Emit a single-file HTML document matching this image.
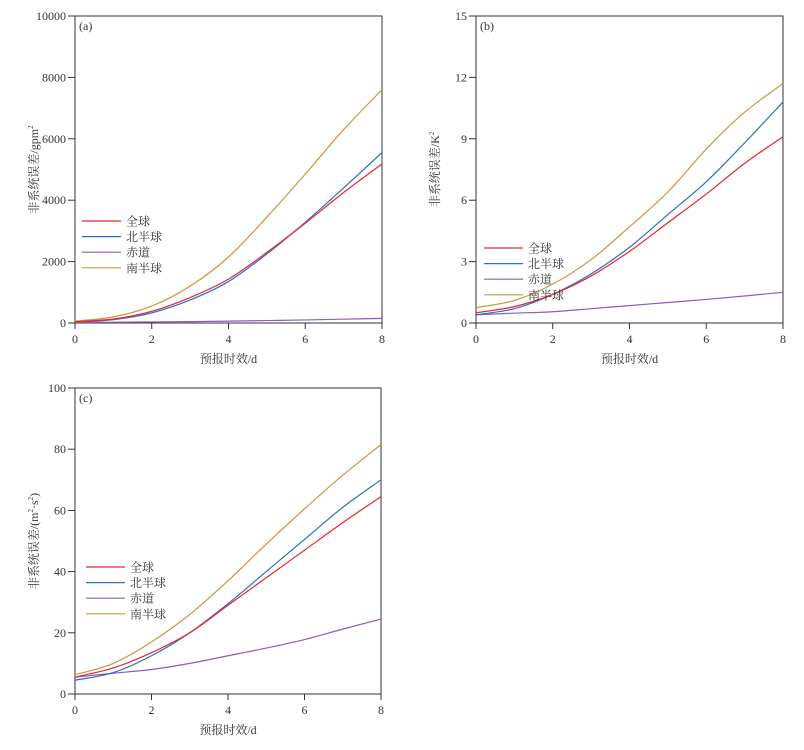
<!DOCTYPE html>
<html><head><meta charset="utf-8">
<style>
body{margin:0;background:#fff;}
svg{display:block;font-family:"Liberation Serif","Noto Serif CJK SC",serif;}
</style></head>
<body>
<svg id="chart" width="804" height="750" viewBox="0 0 804 750"></svg>
<script>
const days = [0,1,2,3,4,5,6,7,8];
const seriesNames = ["全球","北半球","赤道","南半球"];
const seriesColors = ["#e8262a","#2a6fc9","#8a5cc2","#c8963e"];
// panel a
const aGlobal = [40,130,380,830,1430,2300,3250,4250,5180];
const aNorth = [30,110,330,750,1350,2250,3280,4400,5550];
const aEquator = [20,25,35,45,60,80,100,125,150];
const aSouth = [60,200,550,1200,2150,3450,4850,6300,7600];
const aTicks = [0,2000,4000,6000,8000,10000];
// panel b
const bGlobal = [0.5,0.8,1.4,2.3,3.5,4.9,6.3,7.8,9.1];
const bNorth = [0.4,0.7,1.4,2.4,3.7,5.3,6.9,8.8,10.8];
const bEquator = [0.4,0.48,0.55,0.7,0.85,1.0,1.15,1.32,1.5];
const bSouth = [0.75,1.1,1.9,3.1,4.7,6.4,8.5,10.3,11.7];
const bTicks = [0,3,6,9,12,15];
// panel c
const cGlobal = [5.5,8.5,13.5,20,29,38,47,56,64.5];
const cNorth = [4.5,7,12.5,20,29.5,40,50.5,61,70];
const cEquator = [5.5,6.8,8,10,12.5,15,17.8,21.2,24.5];
const cSouth = [6.3,10,17,26,37,49,60.5,71.5,81.5];
const cTicks = [0,20,40,60,80,100];
const xTicks = [0,2,4,6,8];

const NS="http://www.w3.org/2000/svg";
const svg=document.getElementById('chart');
function mk(tag,attrs,parent){const e=document.createElementNS(NS,tag);for(const k in attrs)e.setAttribute(k,attrs[k]);(parent||svg).appendChild(e);return e;}

function panel(cfg){
  const g=mk('g',{});
  
  
  const {L,R,T,B,ymax}=cfg;
  const sx=v=>L+(v/8)*(R-L);
  const sy=v=>B-(v/ymax)*(B-T);
  const box=mk('rect',{x:L,y:T,width:R-L,height:B-T,fill:'none',stroke:'#333','stroke-width':1},g);
  
  
  cfg.yTicks.forEach(t=>{
    const y=sy(t);
    const tl=mk('line',{x1:L-7,x2:L,y1:y,y2:y,stroke:'#333'},g);
    
    
    const tx=mk('text',{x:L-9,y:y+4,'text-anchor':'end','font-size':12,fill:'#333'},g);
    tx.textContent=t;
    
    
  });
  xTicks.forEach(t=>{
    const x=sx(t);
    const tl=mk('line',{x1:x,x2:x,y1:B,y2:B+6,stroke:'#333'},g);
    
    
    const tx=mk('text',{x:x,y:B+20,'text-anchor':'middle','font-size':12,fill:'#333'},g);
    tx.textContent=t;
    
    
  });
  const xt=mk('text',{x:(L+R)/2,y:B+40,'text-anchor':'middle','font-size':12,fill:'#333'},g);
  xt.textContent='预报时效/d';
  
  
  const yt=mk('text',{x:0,y:0,'text-anchor':'middle','font-size':12,fill:'#333',transform:`translate(${L-37},${(T+B)/2}) rotate(-90)`},g);
  yt.innerHTML=cfg.ylabel;
  
  
  const pl=mk('text',{x:L+4,y:T+14,'font-size':12,fill:'#333'},g);
  pl.textContent='('+cfg.id+')';
  
  
  const order=[3,2,1,0];
  order.forEach(i=>{
    const pts=days.map((d,k)=>[sx(d),sy(cfg.data[i][k])]);
    let d='M'+pts[0][0]+','+pts[0][1];
    for(let k=0;k<pts.length-1;k++){
      const p0=pts[Math.max(0,k-1)],p1=pts[k],p2=pts[k+1],p3=pts[Math.min(pts.length-1,k+2)];
      const c1=[p1[0]+(p2[0]-p0[0])/6,p1[1]+(p2[1]-p0[1])/6];
      const c2=[p2[0]-(p3[0]-p1[0])/6,p2[1]-(p3[1]-p1[1])/6];
      d+=` C${c1[0]},${c1[1]} ${c2[0]},${c2[1]} ${p2[0]},${p2[1]}`;
    }
    const p=mk('path',{d:d,fill:'none',stroke:seriesColors[i],'stroke-width':1.2},g);
    
    
  });
  seriesNames.forEach((n,i)=>{
    const y=cfg.legY+i*15.6;
    const ll=mk('line',{x1:cfg.legX,x2:cfg.legX+39,y1:y,y2:y,stroke:seriesColors[i],'stroke-width':1.2},g);
    
    
    const lt=mk('text',{x:cfg.legX+44,y:y+4.5,'font-size':12,fill:'#333'},g);
    lt.textContent=n;
    
    
  });
}
panel({id:'a',L:75,R:382,T:16,B:323,ymax:10000,yTicks:aTicks,data:[aGlobal,aNorth,aEquator,aSouth],ylabel:'非系统误差/gpm<tspan font-size="7" dy="-5">2</tspan>',legX:82,legY:221});
panel({id:'b',L:476,R:783,T:16,B:323,ymax:15,yTicks:bTicks,data:[bGlobal,bNorth,bEquator,bSouth],ylabel:'非系统误差/K<tspan font-size="7" dy="-5">2</tspan>',legX:484,legY:248});
panel({id:'c',L:75,R:381,T:388,B:694,ymax:100,yTicks:cTicks,data:[cGlobal,cNorth,cEquator,cSouth],ylabel:'非系统误差/(m<tspan font-size="7" dy="-5">2</tspan><tspan dy="5">·s</tspan><tspan font-size="7" dy="-5">2</tspan><tspan dy="5">)</tspan>',legX:86,legY:567});
</script>
</body></html>
